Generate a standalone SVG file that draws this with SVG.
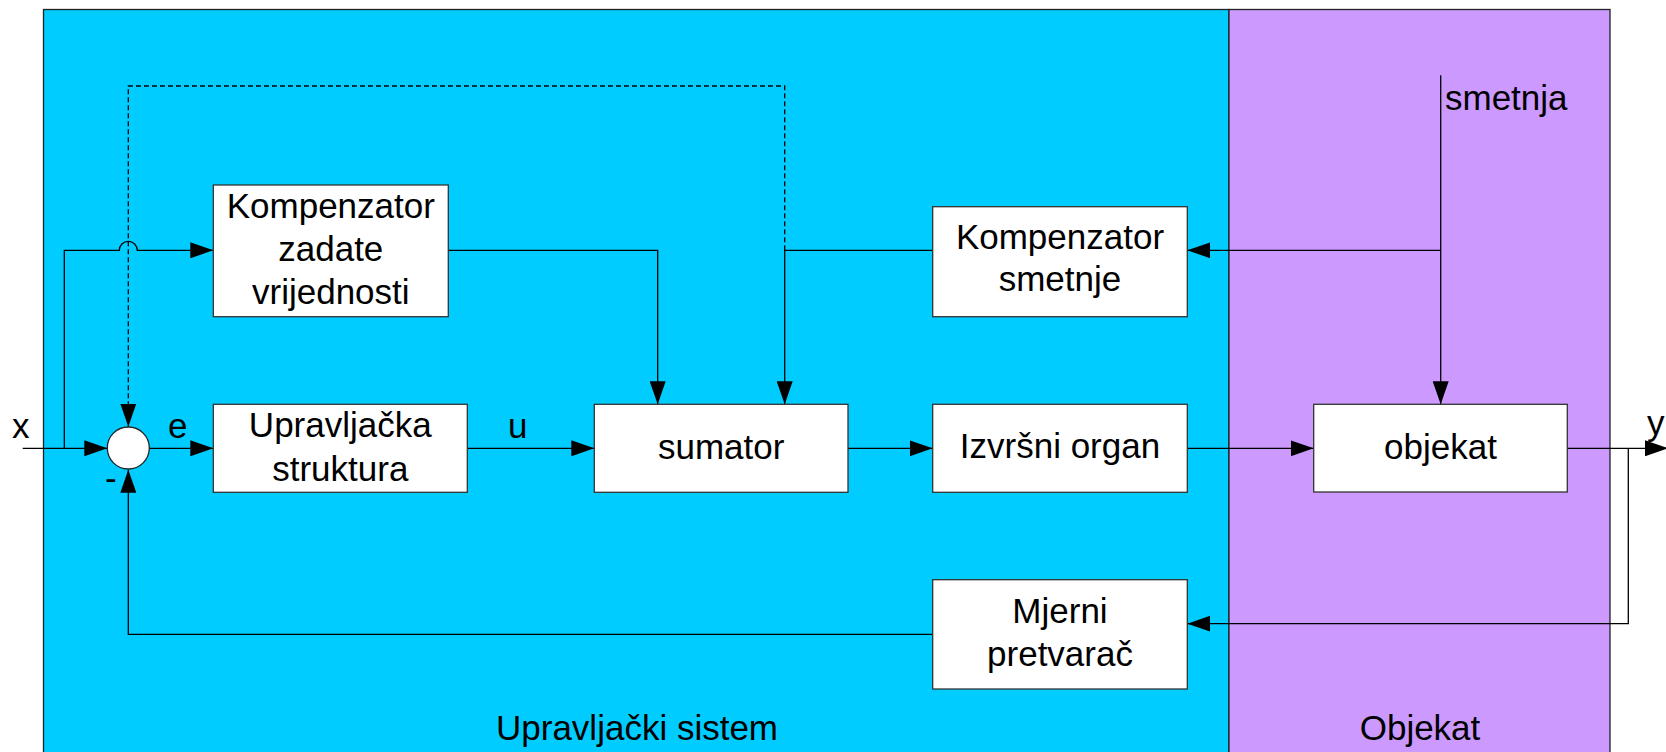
<svg xmlns="http://www.w3.org/2000/svg" width="1666" height="752" viewBox="0 0 1666 752">
<style>
.blk{fill:#fff;stroke:#333;stroke-width:1.3}
.ln{fill:none;stroke:#000;stroke-width:1.3}
.dash{fill:none;stroke:#000;stroke-width:1.3;stroke-dasharray:5,3}
.t{font-family:"Liberation Sans",Arial,sans-serif;font-size:35px;fill:#000;text-anchor:middle}
.tl{font-family:"Liberation Sans",Arial,sans-serif;font-size:35px;fill:#000}
</style>
<defs>
<marker id="ah" markerUnits="userSpaceOnUse" markerWidth="24" markerHeight="16" refX="23" refY="8" orient="auto">
<path d="M0,0 L23,8 L0,16 Z" fill="#000"/>
</marker>
</defs>
<rect width="1666" height="752" fill="#fff"/>
<g id="region-upravljacki">
<rect x="43.5" y="9.5" width="1185.5" height="760" fill="#00CCFF" stroke="#222" stroke-width="1.3"/>
<text class="t" x="637" y="740">Upravljački sistem</text>
</g>
<g id="region-objekat">
<rect x="1229" y="9.5" width="381" height="760" fill="#CC99FF" stroke="#222" stroke-width="1.3"/>
<text class="t" x="1420" y="740">Objekat</text>
</g>
<g id="connectors">
<path class="ln" d="M22.7,448.3 L107.3,448.3" marker-end="url(#ah)"/>
<path class="ln" d="M64.3,448.3 L64.3,250.3 L119.3,250.3 A9,9 0 0 1 137.3,250.3 L213.3,250.3" marker-end="url(#ah)"/>
<path class="dash" d="M784.7,250.3 L784.7,86 L128.3,86 L128.3,426.7" marker-end="url(#ah)"/>
<path class="ln" d="M149.3,448.3 L213.3,448.3" marker-end="url(#ah)"/>
<path class="ln" d="M467.3,448.3 L594.3,448.3" marker-end="url(#ah)"/>
<path class="ln" d="M448.3,250.3 L657.7,250.3 L657.7,404.3" marker-end="url(#ah)"/>
<path class="ln" d="M932.7,250.3 L784.7,250.3 L784.7,404.3" marker-end="url(#ah)"/>
<path class="ln" d="M848,448.3 L932.7,448.3" marker-end="url(#ah)"/>
<path class="ln" d="M1187.3,448.3 L1313.7,448.3" marker-end="url(#ah)"/>
<path class="ln" d="M1440.7,75.3 L1440.7,404.3" marker-end="url(#ah)"/>
<path class="ln" d="M1440.7,250.3 L1187.3,250.3" marker-end="url(#ah)"/>
<path class="ln" d="M1567.3,448.3 L1668,448.3" marker-end="url(#ah)"/>
<path class="ln" d="M1628.3,448.3 L1628.3,623.7 L1187.3,623.7" marker-end="url(#ah)"/>
<path class="ln" d="M932.7,634.3 L128.3,634.3 L128.3,469.7" marker-end="url(#ah)"/>
<text class="tl" x="12" y="438">x</text>
<text class="tl" x="168" y="438">e</text>
<text class="tl" x="105" y="490">-</text>
<text class="tl" x="508" y="438">u</text>
<text class="tl" x="1445" y="110">smetnja</text>
<text class="tl" x="1647" y="435">y</text>
</g>
<g id="sum-node">
<circle cx="128.3" cy="448" r="21" fill="#fff" stroke="#222" stroke-width="1.3"/>
</g>
<g id="kompenzator-zadate">
<rect class="blk" x="213.3" y="185" width="235" height="131.7"/>
<text class="t" x="330.8" y="218">Kompenzator</text>
<text class="t" x="330.8" y="261">zadate</text>
<text class="t" x="330.8" y="304">vrijednosti</text>
</g>
<g id="upravljacka-struktura">
<rect class="blk" x="213.3" y="404.3" width="254" height="88"/>
<text class="t" x="340.3" y="437">Upravljačka</text>
<text class="t" x="340.3" y="481">struktura</text>
</g>
<g id="sumator">
<rect class="blk" x="594.3" y="404.3" width="253.7" height="88"/>
<text class="t" x="721.2" y="459">sumator</text>
</g>
<g id="kompenzator-smetnje">
<rect class="blk" x="932.7" y="206.7" width="254.6" height="110"/>
<text class="t" x="1060" y="249">Kompenzator</text>
<text class="t" x="1060" y="291">smetnje</text>
</g>
<g id="izvrsni-organ">
<rect class="blk" x="932.7" y="404.3" width="254.6" height="88"/>
<text class="t" x="1060" y="458">Izvršni organ</text>
</g>
<g id="mjerni-pretvarac">
<rect class="blk" x="932.7" y="579.7" width="254.6" height="109.3"/>
<text class="t" x="1060" y="623">Mjerni</text>
<text class="t" x="1060" y="666">pretvarač</text>
</g>
<g id="objekat">
<rect class="blk" x="1313.7" y="404.3" width="253.6" height="87.7"/>
<text class="t" x="1440.5" y="459">objekat</text>
</g>
</svg>
